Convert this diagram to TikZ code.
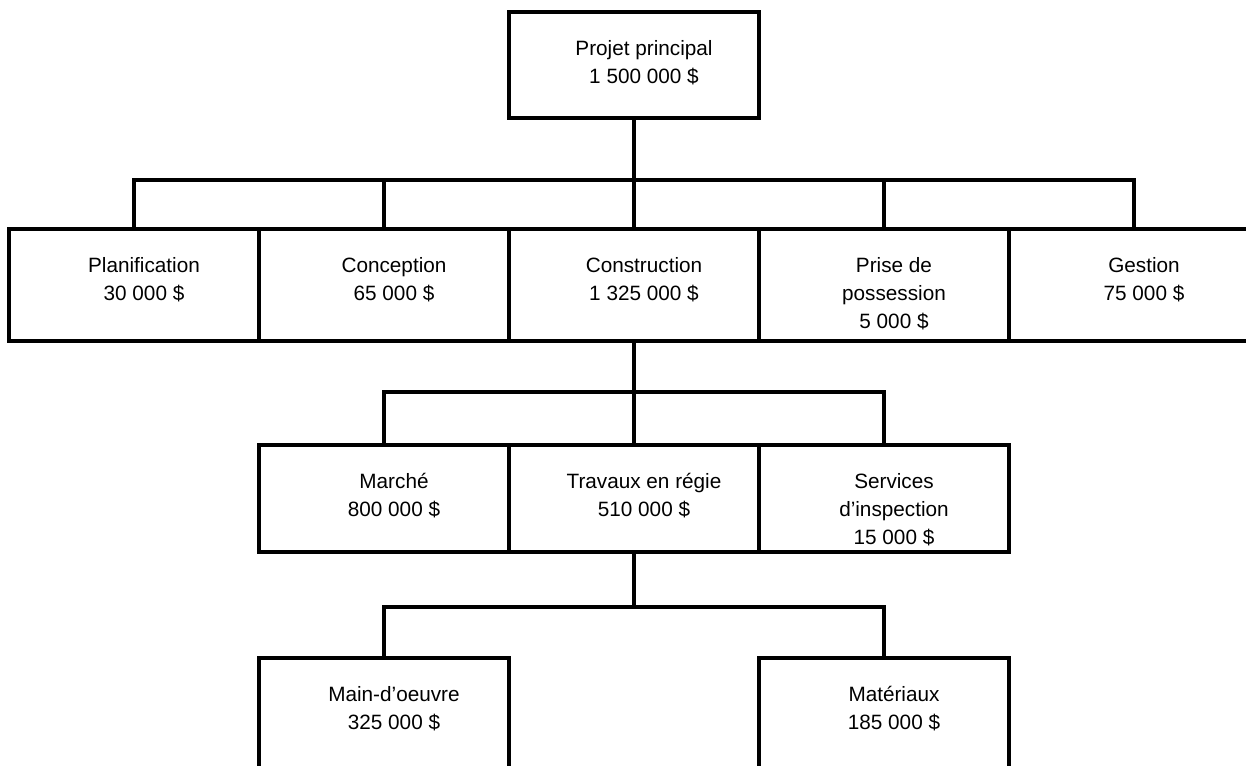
\documentclass[tikz,border=0pt]{standalone}
\usepackage{fontspec}
\setmainfont{Liberation Sans}
\usetikzlibrary{positioning}

\tikzset{
  boite/.style={draw, line width=2.3pt, minimum width=5cm, minimum height=2.24cm, inner sep=0pt},
  texte/.style={align=center, inner sep=0pt, xshift=0.2cm, font=\fontsize{11.8}{15.9}\selectfont},
  lien/.style={line width=2.3pt}
}

\begin{document}
\begin{tikzpicture}[x=0.02cm,y=-0.02cm]
  \useasboundingbox (0,0) rectangle (1246,766);
  \clip (0,0) rectangle (1246,766);

  \node[boite, minimum height=2.12cm] (proj) at (634,65) {};

  \node[boite] (plan) at (134,285) {};
  \node[boite] (conc) at (384,285) {};
  \node[boite] (cons) at (634,285) {};
  \node[boite] (pris) at (884,285) {};
  \node[boite] (gest) at (1134,285) {};

  \node[boite, minimum height=2.14cm] (marc) at (384,498.5) {};
  \node[boite, minimum height=2.14cm] (trav) at (634,498.5) {};
  \node[boite, minimum height=2.14cm] (insp) at (884,498.5) {};

  \node[boite] (main) at (384,714) {};
  \node[boite] (mat) at (884,714) {};

  \node[texte, below=0.6cm of proj.north] (tproj) {Projet principal\\1 500 000 \$};
  \node[texte, below=0.6cm of plan.north] (tplan) {Planification\\30 000 \$};
  \node[texte, below=0.6cm of conc.north] (tconc) {Conception\\65 000 \$};
  \node[texte, below=0.6cm of cons.north] (tcons) {Construction\\1 325 000 \$};
  \node[texte, below=0.6cm of pris.north] (tpris) {Prise de\\possession\\5 000 \$};
  \node[texte, below=0.6cm of gest.north] (tgest) {Gestion\\75 000 \$};
  \node[texte, below=0.6cm of marc.north] (tmarc) {Marché\\800 000 \$};
  \node[texte, below=0.6cm of trav.north] (ttrav) {Travaux en régie\\510 000 \$};
  \node[texte, below=0.6cm of insp.north] (tinsp) {Services\\d’inspection\\15 000 \$};
  \node[texte, below=0.6cm of main.north] (tmain) {Main-d’oeuvre\\325 000 \$};
  \node[texte, below=0.6cm of mat.north] (tmat) {Matériaux\\185 000 \$};

  \draw[lien] (proj.south) -- ++(0,60) coordinate (b1);
  \foreach \n in {plan,conc,cons,pris,gest}
    \draw[lien] (b1) -| (\n.north);

  \draw[lien] (cons.south) -- ++(0,49) coordinate (b2);
  \foreach \n in {marc,trav,insp}
    \draw[lien] (b2) -| (\n.north);

  \draw[lien] (trav.south) -- ++(0,53) coordinate (b3);
  \foreach \n in {main,mat}
    \draw[lien] (b3) -| (\n.north);
\end{tikzpicture}
\end{document}
